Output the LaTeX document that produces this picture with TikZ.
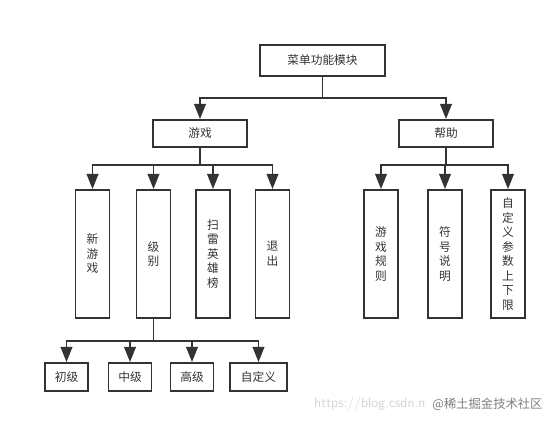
\documentclass[tikz,border=0pt]{standalone}
\usepackage{fontspec}
\newfontfamily\cjk{Noto Sans CJK SC}
\usetikzlibrary{arrows.meta}
\definecolor{linegray}{HTML}{333333}
\definecolor{markgray}{HTML}{D4D4D4}
\begin{document}
\begin{tikzpicture}[x=0.03cm, y=-0.03cm, font=\cjk\fontsize{10}{12.4}\selectfont, every node/.style={align=center}]
\tikzset{
  box/.style={draw=linegray, line width=1.6pt, text=linegray, inner sep=0pt},
  wide/.style={box, minimum width=2.82cm, minimum height=0.81cm},
  tall/.style={box, minimum width=1.02cm, minimum height=3.84cm},
  leaf/.style={box, minimum width=1.29cm, minimum height=0.84cm},
  arr/.style={draw=linegray, line width=1.6pt, -{Triangle[length=13pt, width=10pt]}}
}
\useasboundingbox (0,0) rectangle (553,421);
% top
\node[box, minimum width=3.75cm, minimum height=0.93cm] (menu) at (322.5,60.5) {菜单功能模块};
\node[wide] (game) at (200,133.5) {游戏};
\node[wide] (help) at (446,133.5) {帮助};
% game branch
\node[tall] (newgame) at (92.5,254) {新\\游\\戏};
\node[tall] (level) at (153.5,254) {级\\别};
\node[tall] (rank) at (213,254) {扫\\雷\\英\\雄\\榜};
\node[tall] (quit) at (272.5,254) {退\\出};
% help branch
\node[tall] (rules) at (381,254) {游\\戏\\规\\则};
\node[tall] (symbols) at (445,254) {符\\号\\说\\明};
\node[tall] (limits) at (508,254) {自\\定\\义\\参\\数\\上\\下\\限};
% levels
\node[leaf] (easy) at (66.5,377) {初级};
\node[leaf] (mid) at (130,377) {中级};
\node[leaf] (hard) at (192,377) {高级};
\node[leaf, minimum width=1.71cm] (custom) at (258.5,377) {自定义};
% junctions
\coordinate (jmenu) at (322.5,98);
\coordinate (jgame) at (200,165);
\coordinate (jhelp) at (446,165);
\coordinate (jlevel) at (153.5,341);
\foreach \t in {game,help}
  \draw[arr] (menu.south) -- (jmenu) -| (\t.north);
\foreach \t in {newgame,level,rank,quit}
  \draw[arr] (game.south) -- (jgame) -| (\t.north);
\foreach \t in {rules,symbols,limits}
  \draw[arr] (help.south) -- (jhelp) -| (\t.north);
\foreach \t in {easy,mid,hard,custom}
  \draw[arr] (level.south) -- (jlevel) -| (\t.north);
% watermark
\node[text=markgray, font=\sffamily\fontsize{12}{13}\selectfont, anchor=west, inner sep=0pt] (url) at (314,404) {https://blog.csdn.n};
\node[text=gray, font=\cjk\fontsize{10.5}{11}\selectfont, anchor=west, fill=white, inner sep=1pt] (mark) at (431,404) {@稀土掘金技术社区};
\end{tikzpicture}
\end{document}
